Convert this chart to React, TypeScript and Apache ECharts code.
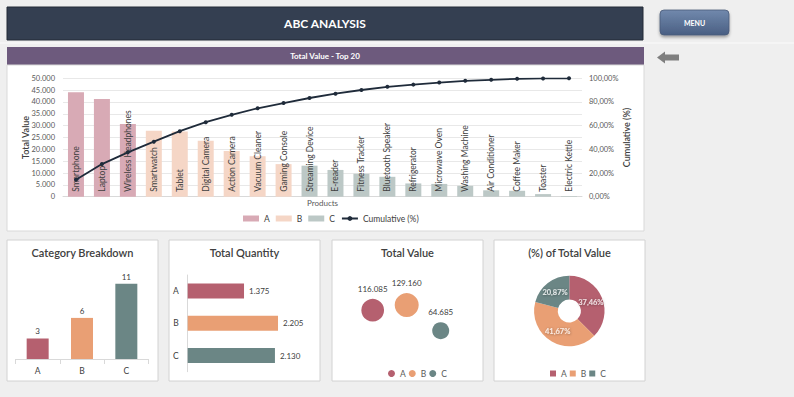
import React, { useEffect, useRef } from "react";
import * as echarts from "echarts";

const FONT = "Lato, 'Liberation Sans', sans-serif";

const products = [
  "Smartphone", "Laptop", "Wireless Headphones", "Smartwatch", "Tablet",
  "Digital Camera", "Action Camera", "Vacuum Cleaner", "Gaming Console",
  "Streaming Device", "E-reader", "Fitness Tracker", "Bluetooth Speaker",
  "Refrigerator", "Microwave Oven", "Washing Machine", "Air Conditioner",
  "Coffee Maker", "Toaster", "Electric Kettle",
];
const productClass = [
  "A", "A", "A", "B", "B", "B", "B", "B", "B",
  "C", "C", "C", "C", "C", "C", "C", "C", "C", "C", "C",
];
const productValues = [
  44100, 41300, 30685, 27900, 27500, 23600, 19300, 17100, 13760,
  13100, 11300, 9700, 8400, 5600, 5400, 4600, 2700, 2500, 1100, 285,
];
const cumulativePct = [
  14.23, 27.55, 37.46, 46.46, 55.33, 62.95, 69.17, 74.69, 79.13, 83.36,
  87.0, 90.13, 92.84, 94.65, 96.39, 97.87, 98.75, 99.55, 99.91, 100,
];

const classes = ["A", "B", "C"];
const classCounts = [3, 6, 11];
const classQuantities = [1375, 2205, 2130];
const classValues = [116085, 129160, 64685];
const classShares = [37.46, 41.67, 20.87];

const lightColors = ["#d8aab5", "#f5d6c6", "#bcc8c6"];
const darkColors = ["#b5606f", "#e99f74", "#6b8685"];

const fmtThousands = (n: number) =>
  String(Math.round(n)).replace(/\B(?=(\d{3})+(?!\d))/g, ".");
const fmtPct = (n: number) => n.toFixed(2).replace(".", ",") + "%";

const txt = (text: string, x: number, y: number, size: number, fill: string, weight: any = "normal") => ({
  type: "text",
  x,
  y,
  silent: true,
  style: {
    text,
    fill,
    fontSize: size,
    fontWeight: weight,
    fontFamily: FONT,
    align: "center",
    verticalAlign: "middle",
  },
});

const panelXs = [7, 169, 332, 494];
const panelTitles = ["Category Breakdown", "Total Quantity", "Total Value", "(%) of Total Value"];

function mainOption(): any {
  const graphic: any[] = [
    { type: "rect", shape: { x: 7, y: 7, width: 636, height: 33 }, style: { fill: "#343f51", stroke: "#222a36", lineWidth: 1 }, silent: true },
    txt("ABC ANALYSIS", 325, 23.5, 12, "#ffffff", "bold"),
    { type: "line", shape: { x1: 0, y1: 43, x2: 794, y2: 43 }, style: { stroke: "#fbfbfb", lineWidth: 1 }, silent: true },
    {
      type: "rect",
      shape: { x: 660, y: 10, width: 69, height: 25, r: 4 },
      style: {
        fill: new echarts.graphic.LinearGradient(0, 0, 0, 1, [
          { offset: 0, color: "#7189ad" },
          { offset: 1, color: "#4a5f83" },
        ]),
        stroke: "#4a5b78",
        lineWidth: 0.8,
        shadowBlur: 3,
        shadowOffsetY: 2,
        shadowColor: "rgba(0,0,0,0.35)",
      },
      silent: true,
    },
    txt("MENU", 694.5, 22.5, 7, "#ffffff", "bold"),
    {
      type: "polygon",
      shape: { points: [[657, 57.5], [665, 51.5], [665, 54.5], [679, 54.5], [679, 60.5], [665, 60.5], [665, 63.5]] },
      style: { fill: "#7f7f7f" },
      silent: true,
    },
    { type: "rect", shape: { x: 7, y: 47, width: 637, height: 18 }, style: { fill: "#6d5a7d" }, silent: true },
    txt("Total Value - Top 20", 325, 56, 8, "#ffffff", "bold"),
    { type: "rect", shape: { x: 7, y: 65, width: 637, height: 166 }, style: { fill: "#ffffff", stroke: "#d9d9d9", lineWidth: 1 }, silent: true },
  ];
  panelXs.forEach((x, i) => {
    graphic.push({ type: "rect", shape: { x, y: 240, width: 151, height: 141 }, style: { fill: "#ffffff", stroke: "#d2d2d2", lineWidth: 1 }, silent: true });
    graphic.push(txt(panelTitles[i], x + 75.5, 252.5, 11, "#404040", 600));
  });

  const classSeries = classes.map((c, k) => ({
    name: c,
    type: "bar",
    xAxisIndex: 0,
    yAxisIndex: 0,
    barWidth: 16,
    barGap: "-100%",
    itemStyle: { color: lightColors[k] },
    data: productValues.map((v, i) => (productClass[i] === c ? v : "-")),
    label: {
      show: true,
      position: "insideBottom",
      rotate: 90,
      align: "left",
      verticalAlign: "middle",
      distance: 5,
      formatter: "{b}",
      fontSize: 8.5,
      fontFamily: FONT,
      color: "#404040",
    },
  }));

  return {
    animation: false,
    backgroundColor: "#efefef",
    textStyle: { fontFamily: FONT },
    graphic,
    legend: [
      {
        top: 209,
        left: 238,
        itemWidth: 16,
        itemHeight: 6,
        itemGap: 6,
        textStyle: { fontSize: 8.5, color: "#404040", fontFamily: FONT },
        data: [
          { name: "A", icon: "rect" },
          { name: "B", icon: "rect" },
          { name: "C", icon: "rect" },
          { name: "Cumulative (%)" },
        ],
      },
    ],
    grid: [
      { left: 63, right: 212, top: 78.3, bottom: 200.3 },
      { left: 15.5, width: 133, top: 276.8, height: 82.2 },
      { left: 187.7, width: 102.4, top: 275, height: 96.7 },
    ],
    xAxis: [
      {
        type: "category",
        gridIndex: 0,
        data: products,
        axisLabel: { show: false },
        axisTick: { show: false },
        axisLine: { lineStyle: { color: "#d9d9d9" } },
        name: "Products",
        nameLocation: "middle",
        nameGap: 2,
        nameMoveOverlap: false,
        nameTextStyle: { fontSize: 8, color: "#595959", fontFamily: FONT, verticalAlign: "top" },
      },
      {
        type: "category",
        gridIndex: 1,
        data: classes,
        axisLine: { lineStyle: { color: "#d9d9d9" } },
        axisTick: { show: true, lineStyle: { color: "#d9d9d9" } },
        axisLabel: { fontSize: 8.5, color: "#404040", margin: 7, fontFamily: FONT },
      },
      {
        type: "value",
        gridIndex: 2,
        min: 0,
        max: 2500,
        show: false,
        splitLine: { show: false },
      },
    ],
    yAxis: [
      {
        type: "value",
        gridIndex: 0,
        min: 0,
        max: 50000,
        interval: 5000,
        axisLine: { show: false },
        axisTick: { show: false },
        splitLine: { lineStyle: { color: "#e8e8e8" } },
        axisLabel: { fontSize: 7.5, color: "#595959", margin: 8, formatter: (v: number) => fmtThousands(v), fontFamily: FONT },
        name: "Total Value",
        nameLocation: "middle",
        nameRotate: 90,
        nameGap: 33,
        nameMoveOverlap: false,
        nameTextStyle: { fontSize: 9, color: "#404040", fontWeight: 600, fontFamily: FONT },
      },
      {
        type: "value",
        gridIndex: 0,
        position: "right",
        min: 0,
        max: 100,
        interval: 20,
        axisLine: { show: false },
        axisTick: { show: false },
        splitLine: { show: false },
        axisLabel: { fontSize: 7.5, color: "#595959", margin: 7, formatter: (v: number) => fmtPct(v), fontFamily: FONT },
        name: "Cumulative (%)",
        nameLocation: "middle",
        nameRotate: 90,
        nameGap: 40,
        nameMoveOverlap: false,
        nameTextStyle: { fontSize: 9, color: "#404040", fontWeight: 600, fontFamily: FONT },
      },
      {
        type: "value",
        gridIndex: 1,
        min: 0,
        max: 12,
        show: false,
        splitLine: { show: false },
      },
      {
        type: "category",
        gridIndex: 2,
        data: classes,
        inverse: true,
        axisLine: { lineStyle: { color: "#d9d9d9" } },
        axisTick: { show: false },
        axisLabel: { fontSize: 8.5, color: "#404040", margin: 9, fontFamily: FONT },
      },
    ],
    series: [
      ...classSeries,
      {
        name: "Cumulative (%)",
        type: "line",
        xAxisIndex: 0,
        yAxisIndex: 1,
        data: cumulativePct,
        symbol: "circle",
        symbolSize: 4,
        lineStyle: { color: "#1f2b3a", width: 1.8 },
        itemStyle: { color: "#1f2b3a" },
        z: 5,
      },
      {
        name: "Count",
        type: "bar",
        xAxisIndex: 1,
        yAxisIndex: 2,
        barWidth: 22,
        data: classCounts.map((v, i) => ({ value: v, itemStyle: { color: darkColors[i] } })),
        label: { show: true, position: "top", distance: 3, fontSize: 8, color: "#404040", fontFamily: FONT },
      },
      {
        name: "Quantity",
        type: "bar",
        xAxisIndex: 2,
        yAxisIndex: 3,
        barWidth: 15,
        data: classQuantities.map((v, i) => ({ value: v, itemStyle: { color: darkColors[i] } })),
        label: {
          show: true,
          position: "right",
          distance: 5,
          fontSize: 8,
          color: "#404040",
          fontFamily: FONT,
          formatter: (p: any) => fmtThousands(p.value),
        },
      },
    ],
  };
}

function bubbleOption(): any {
  const maxV = Math.max(...classValues);
  return {
    animation: false,
    textStyle: { fontFamily: FONT },
    legend: {
      top: 364,
      left: 383,
      icon: "circle",
      itemWidth: 7,
      itemHeight: 7,
      itemGap: 3,
      textStyle: { fontSize: 8.5, color: "#595959", fontFamily: FONT },
      data: classes,
    },
    grid: { left: 355.7, width: 102, top: 276.8, height: 79.7 },
    xAxis: { type: "category", data: classes, show: false },
    yAxis: { type: "value", min: 0, max: 200000, show: false, splitLine: { show: false } },
    series: classes.map((c, k) => ({
      name: c,
      type: "scatter",
      data: classValues.map((v, j) => (j === k ? v : "-")),
      symbolSize: (v: number) => 24 * Math.sqrt(v / maxV),
      itemStyle: { color: darkColors[k], opacity: 1 },
      label: {
        show: true,
        position: "top",
        distance: 6,
        fontSize: 8,
        color: "#404040",
        fontFamily: FONT,
        formatter: (p: any) => fmtThousands(p.value),
      },
    })),
  };
}

function pieOption(): any {
  const inner = 11.5;
  const outer = 35.2;
  // label anchors: middle of each ring segment, expressed in the polar system's own units
  const labelPoints = classShares.map((s, i) => {
    const before = classShares.slice(0, i).reduce((a, b) => a + b, 0);
    return { value: [(inner + outer) / 2, before + s / 2], share: s };
  });
  return {
    animation: false,
    textStyle: { fontFamily: FONT },
    legend: {
      top: 364,
      left: 545,
      icon: "rect",
      itemWidth: 6,
      itemHeight: 6,
      itemGap: 3,
      textStyle: { fontSize: 8.5, color: "#595959", fontFamily: FONT },
      data: classes,
    },
    polar: { center: [569.3, 311], radius: [0, outer] },
    angleAxis: { type: "value", min: 0, max: 100, startAngle: 90, clockwise: true, show: false, splitLine: { show: false } },
    radiusAxis: { type: "value", min: 0, max: outer, show: false, splitLine: { show: false } },
    series: [
      {
        type: "pie",
        center: [569.3, 311],
        radius: [inner, outer],
        startAngle: 90,
        clockwise: true,
        label: { show: false },
        labelLine: { show: false },
        data: classes.map((c, i) => ({ name: c, value: classShares[i], itemStyle: { color: darkColors[i] } })),
      },
      {
        name: "shareLabels",
        type: "scatter",
        coordinateSystem: "polar",
        symbolSize: 0,
        silent: true,
        z: 10,
        data: labelPoints.map((p) => ({ value: p.value, share: p.share })),
        label: {
          show: true,
          position: "inside",
          color: "#ffffff",
          fontWeight: "bold",
          fontSize: 7.5,
          fontFamily: FONT,
          textShadowColor: "rgba(0,0,0,0.5)",
          textShadowBlur: 2,
          textShadowOffsetX: 0.5,
          textShadowOffsetY: 0.5,
          formatter: (p: any) => fmtPct(p.data.share),
        },
      },
    ],
  };
}

export default function App() {
  const mainRef = useRef<HTMLDivElement>(null);
  const bubbleRef = useRef<HTMLDivElement>(null);
  const pieRef = useRef<HTMLDivElement>(null);

  useEffect(() => {
    const main = echarts.init(mainRef.current!, undefined, { renderer: "svg" });
    main.setOption(mainOption());
    const bubble = echarts.init(bubbleRef.current!, undefined, { renderer: "svg" });
    bubble.setOption(bubbleOption());
    const pie = echarts.init(pieRef.current!, undefined, { renderer: "svg" });
    pie.setOption(pieOption());
    return () => {
      main.dispose();
      bubble.dispose();
      pie.dispose();
    };
  }, []);

  const layer: React.CSSProperties = { position: "absolute", left: 0, top: 0, width: 794, height: 397 };
  return (
    <div style={{ position: "absolute", left: 0, top: 0, width: 794, height: 397, background: "#efefef" }}>
      <div ref={mainRef} style={layer} />
      <div ref={bubbleRef} style={layer} />
      <div ref={pieRef} style={layer} />
    </div>
  );
}
